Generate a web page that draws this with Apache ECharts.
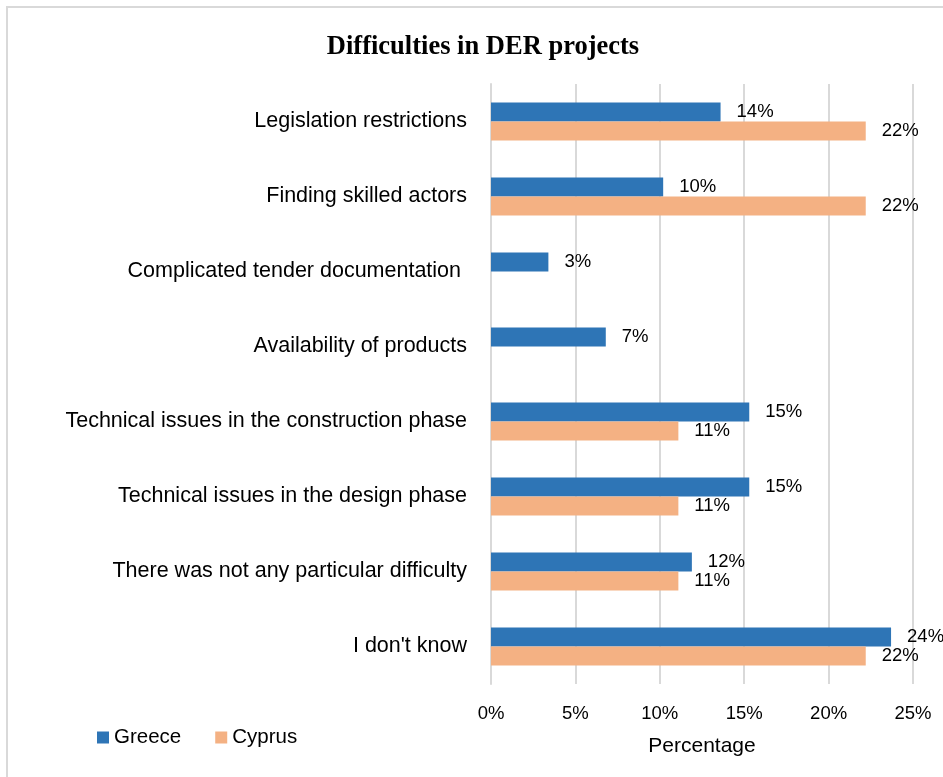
<!DOCTYPE html>
<html>
<head>
<meta charset="utf-8">
<script src="https://cdn.jsdelivr.net/npm/echarts@6/dist/echarts.min.js"></script>
<style>
html,body{margin:0;padding:0;background:#fff;}
#chart{width:943px;height:777px;}
</style>
</head>
<body>
<div id="chart"></div>
<script>
// Categories, top to bottom as shown in the picture
const categories = [
  "Legislation restrictions",
  "Finding skilled actors",
  "Complicated tender documentation ",
  "Availability of products",
  "Technical issues in the construction phase",
  "Technical issues in the design phase",
  "There was not any particular difficulty",
  "I don't know"
];
const greece = [13.6, 10.2, 3.4, 6.8, 15.3, 15.3, 11.9, 23.7];
const cyprus = [22.2, 22.2, null, null, 11.1, 11.1, 11.1, 22.2];
const xTicks = [0, 5, 10, 15, 20, 25];

const labelFont = "'Liberation Sans', 'DejaVu Sans', sans-serif";
const chart = echarts.init(document.getElementById('chart'));
chart.setOption({
  animation: false,
  backgroundColor: '#fff',
  title: {
    text: 'Difficulties in DER projects',
    left: 478, textAlign: 'center',
    top: 29,
    textStyle: {fontFamily: "'Liberation Serif', serif", fontWeight: 'bold', fontSize: 26.5, color: '#000'}
  },
  graphic: [{
    type: 'rect',
    shape: {x: 7, y: 7, width: 1000, height: 1000},
    style: {fill: 'none', stroke: '#d9d9d9', lineWidth: 2},
    silent: true
  }],
  legend: {
    left: 92, top: 722,
    itemWidth: 12, itemHeight: 12, itemGap: 34,
    icon: 'rect',
    textStyle: {fontFamily: labelFont, fontSize: 20.5, color: '#000'},
    data: ['Greece', 'Cyprus']
  },
  grid: {left: 491, right: 30, top: 84, bottom: 93, containLabel: false},
  xAxis: {
    type: 'value', min: 0, max: 25, interval: 5,
    name: 'Percentage', nameLocation: 'middle', nameGap: 52,
    nameTextStyle: {fontFamily: labelFont, fontSize: 21, color: '#000'},
    axisLabel: {formatter: v => xTicks.includes(v) ? v + '%' : '', fontFamily: labelFont, fontSize: 18.5, color: '#000', margin: 20},
    axisLine: {show: false}, axisTick: {show: false},
    splitLine: {lineStyle: {color: '#d9d9d9', width: 2}}
  },
  yAxis: {
    type: 'category', data: categories, inverse: true,
    axisLabel: {fontFamily: labelFont, fontSize: 21.5, color: '#000', margin: 24},
    axisLine: {show: true, lineStyle: {color: '#d9d9d9', width: 2}},
    axisTick: {show: false}
  },
  series: [
    {
      name: 'Greece', type: 'bar', data: greece, barWidth: 19, barGap: '0%',
      itemStyle: {color: '#2e75b6'},
      label: {show: true, position: 'right', distance: 16, formatter: p => Math.round(p.value) + '%', fontFamily: labelFont, fontSize: 18.5, color: '#000'}
    },
    {
      name: 'Cyprus', type: 'bar', data: cyprus, barWidth: 19, barGap: '0%',
      itemStyle: {color: '#f4b183'},
      label: {show: true, position: 'right', distance: 16, formatter: p => Math.round(p.value) + '%', fontFamily: labelFont, fontSize: 18.5, color: '#000'}
    }
  ]
});
</script>
</body>
</html>
